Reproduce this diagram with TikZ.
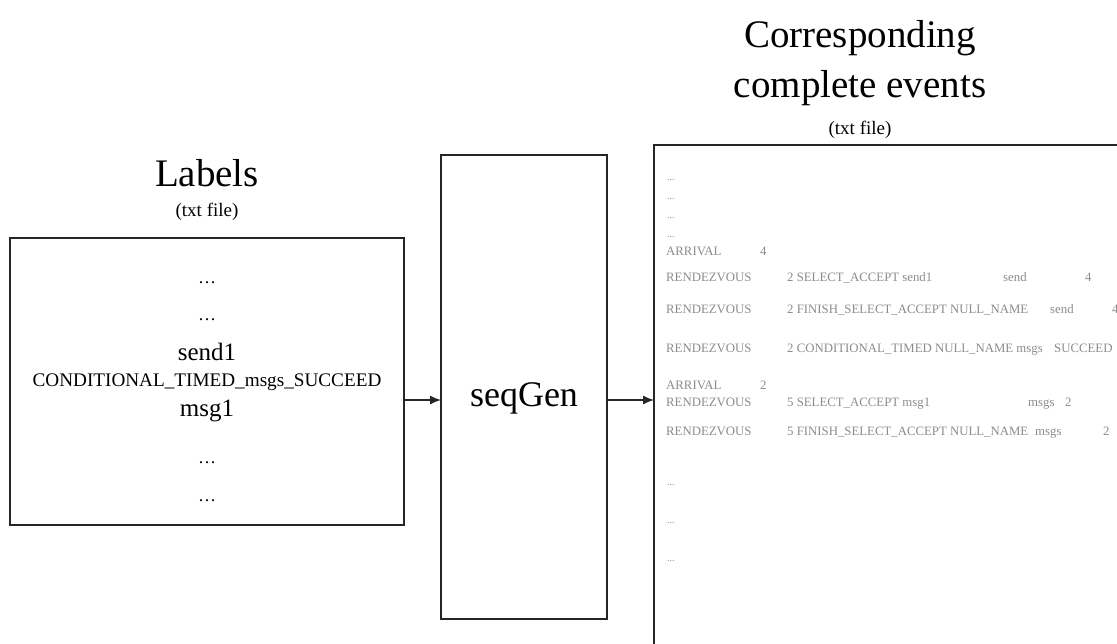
\documentclass[tikz,border=0pt]{standalone}
\usepackage{fontspec}
\setmainfont{Liberation Serif}
\usetikzlibrary{arrows.meta}
\definecolor{logtext}{HTML}{8C8C8C}
\tikzset{
  filebox/.style={draw=black!85, line width=1.6pt},
  flow/.style={draw=black!85, line width=1.3pt, -{Latex[length=11pt,width=9pt]}},
  title/.style={font=\fontsize{39}{39}\selectfont, inner sep=0pt, anchor=base},
  subtitle/.style={font=\fontsize{19}{19}\selectfont, inner sep=0pt, anchor=base},
  labelline/.style={font=\fontsize{25}{25}\selectfont, inner sep=0pt},
  dots/.style={font=\fontsize{18}{18}\selectfont, inner sep=0pt},
  logline/.style={font=\fontsize{12.8}{12.8}\selectfont, text=logtext, inner sep=0pt, anchor=base west},
  logdots/.style={font=\fontsize{10}{10}\selectfont, text=logtext, inner sep=0pt, anchor=base west}
}
\begin{document}
\begin{tikzpicture}[x=1pt,y=-1pt]
\clip (0,0) rectangle (1117,643);
\fill[white] (0,0) rectangle (1117,643);

% input label file
\node[title] (labT) at (207,186) {Labels};
\node[subtitle] (labS) at (207,216) {(txt file)};
\draw[filebox] (10,238) rectangle (404,525);
\coordinate (labOut) at (404,400);
\node[dots] (l1) at (207,283) {\ldots};
\node[dots] (l2) at (207,320) {\ldots};
\node[labelline] (l3) at (207,352) {send1};
\node[font=\fontsize{19.2}{19.2}\selectfont, inner sep=0pt] (l4) at (207,382) {CONDITIONAL\_TIMED\_msgs\_SUCCEED};
\node[labelline] (l5) at (207,411) {msg1};
\node[dots] (l6) at (207,463) {\ldots};
\node[dots] (l7) at (207,501) {\ldots};

% generator
\draw[filebox] (441,155) rectangle (607,619);
\node[font=\fontsize{36}{36}\selectfont, inner sep=0pt] (gen) at (524,398) {seqGen};
\coordinate (genIn) at (441,400);
\coordinate (genOut) at (607,400);

% output event file
\node[title] (evT1) at (860,47) {Corresponding};
\node[title] (evT2) at (860,97) {complete events};
\node[subtitle] (evS) at (860,134) {(txt file)};
\draw[filebox] (654,145) rectangle (1135,660);
\coordinate (evIn) at (654,400);

\foreach \yy in {180,199,218,237} \node[logdots] at (667,\yy) {...};
\node[logline] at (666,255) {ARRIVAL};
\node[logline] at (760,255) {4};
\node[logline] at (666,281) {RENDEZVOUS};
\node[logline] at (787,281) {2 SELECT\_ACCEPT send1};
\node[logline] at (1003,281) {send};
\node[logline] at (1085,281) {4};
\node[logline] at (666,313) {RENDEZVOUS};
\node[logline] at (787,313) {2 FINISH\_SELECT\_ACCEPT NULL\_NAME};
\node[logline] at (1050,313) {send};
\node[logline] at (1112,313) {4};
\node[logline] at (666,352) {RENDEZVOUS};
\node[logline] at (787,352) {2 CONDITIONAL\_TIMED NULL\_NAME msgs};
\node[logline] at (1054,352) {SUCCEED};
\node[logline] at (666,389) {ARRIVAL};
\node[logline] at (760,389) {2};
\node[logline] at (666,406) {RENDEZVOUS};
\node[logline] at (787,406) {5 SELECT\_ACCEPT msg1};
\node[logline] at (1028,406) {msgs};
\node[logline] at (1065,406) {2};
\node[logline] at (666,435) {RENDEZVOUS};
\node[logline] at (787,435) {5 FINISH\_SELECT\_ACCEPT NULL\_NAME};
\node[logline] at (1035,435) {msgs};
\node[logline] at (1103,435) {2};
\foreach \yy in {485,523,561} \node[logdots] at (667,\yy) {...};

% data flow
\draw[flow] (labOut) -- (genIn);
\draw[flow] (genOut) -- (evIn);
\end{tikzpicture}
\end{document}
